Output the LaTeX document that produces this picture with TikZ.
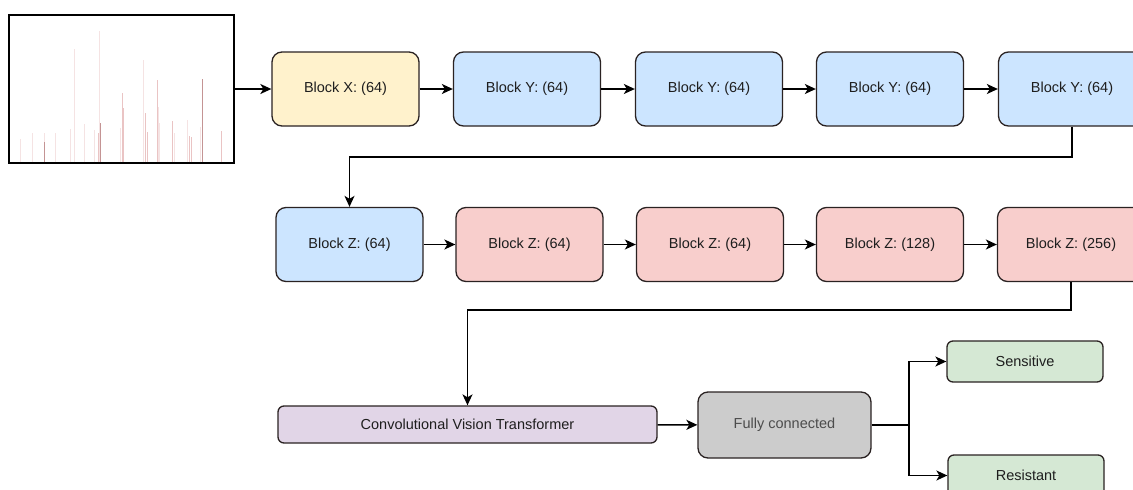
\documentclass[tikz,border=0pt]{standalone}
\usepackage{fontspec}
\setmainfont{Liberation Sans}
\usetikzlibrary{arrows.meta,positioning}

\definecolor{fillX}{HTML}{FFF2CC}
\definecolor{fillY}{HTML}{CCE5FF}
\definecolor{fillZ}{HTML}{F8CECC}
\definecolor{fillCvT}{HTML}{E1D5E7}
\definecolor{fillFC}{HTML}{CCCCCC}
\definecolor{fillOut}{HTML}{D5E8D4}
\definecolor{edge}{HTML}{2A2222}
\definecolor{txt}{HTML}{1E1E1E}
\definecolor{pkA}{HTML}{F5E3E3}
\definecolor{pkB}{HTML}{EAC4C4}
\definecolor{pkC}{HTML}{C49494}

\tikzset{
  block/.style={draw=edge, line width=1.3pt, rounded corners=10pt,
    minimum width=147pt, minimum height=74pt, inner sep=0pt,
    font=\fontsize{14.5}{17}\selectfont, text=txt},
  slim/.style={draw=edge, line width=1.3pt, rounded corners=6pt,
    minimum height=41pt, inner sep=0pt,
    font=\fontsize{14.5}{17}\selectfont, text=txt},
  link/.style={draw=black, line width=1.5pt},
  arr/.style={link, -{Stealth[length=11pt,width=10pt,inset=3pt]}},
  peak/.style={line width=1pt}
}

\begin{document}
\begin{tikzpicture}[x=1pt,y=-1pt]
\useasboundingbox (0,0) rectangle (1133,490);

% input spectrum
\node[draw=black, line width=1.5pt, minimum width=225pt, minimum height=148pt,
      inner sep=0pt] (spec) at (121.5,89) {};
\foreach \px/\top/\col in {
  20/139/pkA, 32/133/pkA, 44/133/pkA, 55/133/pkA, 70/129/pkA, 74/49/pkA,
  84/124/pkA, 94/130/pkA, 99/31/pkA, 98/133/pkB, 120/128/pkA, 122/93/pkB,
  123/108/pkB, 143/60/pkA, 145/113/pkB, 147/132/pkB, 157/80/pkB, 158/107/pkA,
  159/123/pkA, 172/121/pkB, 174/133/pkA, 187/120/pkA, 189/136/pkB,
  191/137/pkB, 200/127/pkA, 202/79/pkC, 221/131/pkB}
  \draw[peak, draw=\col] (\px,162) -- (\px,\top);
\draw[peak, draw=pkC] (44,162) -- (44,142);
\draw[peak, draw=pkC] (100,162) -- (100,123);

% first row
\node[block, fill=fillX] (bx) at (345.5,89) {Block X: (64)};
\node[block, fill=fillY] (y1) at (527,89) {Block Y: (64)};
\node[block, fill=fillY] (y2) at (709,89) {Block Y: (64)};
\node[block, fill=fillY] (y3) at (890,89) {Block Y: (64)};
\node[block, fill=fillY] (y4) at (1072,89) {Block Y: (64)};

% second row
\node[block, fill=fillY] (z1) at (349.5,244.5) {Block Z: (64)};
\node[block, fill=fillZ] (z2) at (529.5,244.5) {Block Z: (64)};
\node[block, fill=fillZ] (z3) at (710,244.5) {Block Z: (64)};
\node[block, fill=fillZ] (z4) at (890,244.5) {Block Z: (128)};
\node[block, fill=fillZ] (z5) at (1071,244.5) {Block Z: (256)};

% head
\node[slim, fill=fillCvT, minimum width=379pt, minimum height=37pt]
  (cvt) at (467.5,424.5) {Convolutional Vision Transformer};
\node[block, fill=fillFC, minimum width=173pt, minimum height=66pt, text=black!70]
  (fc) at (784.5,425) {Fully connected};
\node[slim, fill=fillOut, minimum width=156pt] (sens) at (1025,361.5) {Sensitive};
\node[slim, fill=fillOut, minimum width=156pt] (res) at (1026,475.5) {Resistant};

% connectors
\draw[arr] (spec.east |- bx.west) -- (bx.west);
\draw[arr] (bx) -- (y1);
\draw[arr] (y1) -- (y2);
\draw[arr] (y2) -- (y3);
\draw[arr] (y3) -- (y4);

\coordinate (turnA) at (1072,157);
\draw[arr] (y4.south) -- (turnA) -| (z1.north);

\draw[arr] (z1) -- (z2);
\draw[arr] (z2) -- (z3);
\draw[arr] (z3) -- (z4);
\draw[arr] (z4) -- (z5);

\coordinate (turnB) at (1071,310);
\draw[arr] (z5.south) -- (turnB) -| (cvt.north);

\draw[arr] (cvt) -- (fc);
\coordinate (fork) at (909,425);
\draw[link] (fc.east) -- (fork);
\draw[arr] (fork) |- (sens.west);
\draw[arr] (fork) |- (res.west);
\end{tikzpicture}
\end{document}
